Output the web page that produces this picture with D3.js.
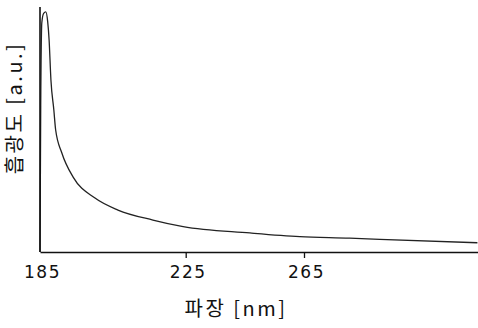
<!DOCTYPE html>
<html>
<head>
<meta charset="utf-8">
<script src="https://cdn.jsdelivr.net/npm/d3@7"></script>
<style>
  body { margin: 0; background: #fff; }
  text { font-family: "Noto Sans CJK KR", "Noto Sans", sans-serif; fill: #111; }
</style>
</head>
<body>
<div id="chart"></div>
<script>
// wavelength (nm) and absorbance (a.u.)
const wavelengths = [185.0, 185.2, 185.5, 186.0, 186.6, 187.1, 187.5, 188.0, 188.8, 189.3, 191.0, 194.1, 200.1, 206.4, 216.0, 224.3, 246.7, 263.6, 280.5, 290.7, 323.8];
const absorbance  = [0,     60,    94,    97.8,  98.4,  94.5,  86.9,  70.5,  58.2,  50.0,  40.6,  30.7,  22.1,  17.2,  13.1,  10.4,  7.8,   6.3,   5.7,   5.2,   3.8];
const tickValues = [185, 225, 265];
const xLabel = '파장 [nm]';
const yLabel = '흡광도 [a.u.]';

const width = 478, height = 328;
const margin = { top: 7, right: 0, bottom: 76, left: 40 };

const svg = d3.select('#chart').append('svg')
  .attr('width', width)
  .attr('height', height);

// the original axis is not evenly spaced, so use a piecewise scale
const x = d3.scaleLinear()
  .domain([185, 225, 265, 324])
  .range([margin.left, 185.7, 304, width]);

const y = d3.scaleLinear()
  .domain([0, 100])
  .range([height - margin.bottom, margin.top + 1]);

const data = wavelengths.map((w, i) => ({ w: w, v: absorbance[i] }));

const line = d3.line()
  .x(d => x(d.w))
  .y(d => y(d.v))
  .curve(d3.curveMonotoneX);

svg.append('path')
  .datum(data)
  .attr('fill', 'none')
  .attr('stroke', '#222')
  .attr('stroke-width', 1.3)
  .attr('d', line);

// x axis
const xAxis = svg.append('g')
  .attr('transform', `translate(0, ${height - margin.bottom})`)
  .call(d3.axisBottom(x).tickValues(tickValues).tickSize(6).tickSizeOuter(0).tickPadding(8));
xAxis.select('.domain').attr('stroke', '#111').attr('stroke-width', 1.6);
xAxis.selectAll('.tick line').attr('stroke', '#111').attr('stroke-width', 1.3);
xAxis.selectAll('.tick').filter(d => d === 185).select('line').remove();
xAxis.selectAll('.tick text')
  .style('font-family', '"DejaVu Sans", sans-serif')
  .style('font-size', '17px')
  .style('letter-spacing', '1.5px')
  .attr('fill', '#111')
  .attr('dx', 2);

// y axis (no ticks)
svg.append('line')
  .attr('x1', margin.left).attr('x2', margin.left)
  .attr('y1', margin.top).attr('y2', height - margin.bottom)
  .attr('stroke', '#111')
  .attr('stroke-width', 1.6);

svg.append('text')
  .attr('x', 236)
  .attr('y', 316)
  .attr('text-anchor', 'middle')
  .style('font-size', '20px')
  .style('letter-spacing', '2.5px')
  .text(xLabel);

svg.append('text')
  .attr('transform', 'translate(22, 108) rotate(-90)')
  .attr('text-anchor', 'middle')
  .style('font-size', '20px')
  .style('letter-spacing', '2.5px')
  .text(yLabel);
</script>
</body>
</html>
